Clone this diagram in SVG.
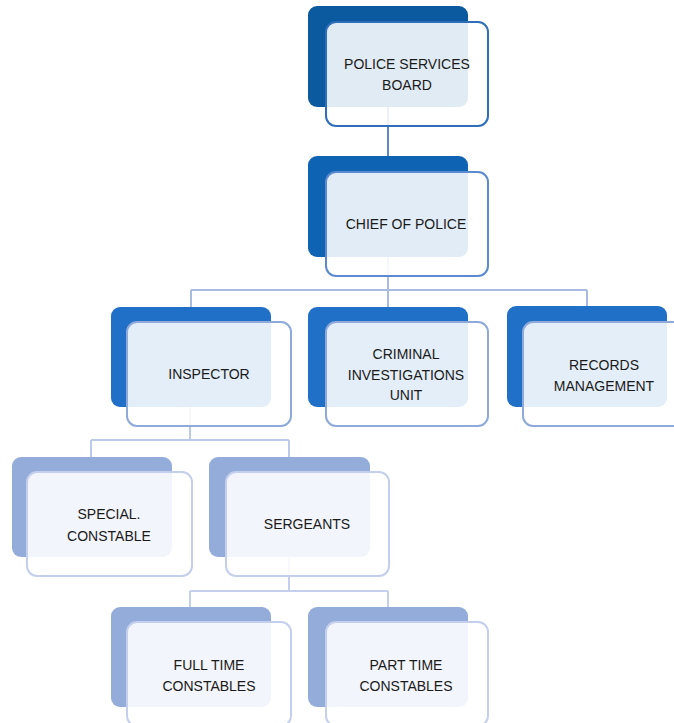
<svg xmlns="http://www.w3.org/2000/svg" width="674" height="723" viewBox="0 0 674 723">
<style>
.back{stroke:none}
.front{fill:#ffffff;fill-opacity:0.88;stroke-width:2}
.t{font-family:"Liberation Sans",Arial,sans-serif;font-size:14px;fill:#1a1a1a;text-anchor:middle}
.c{fill:none;stroke-width:2}
</style>
<rect width="674" height="723" fill="#ffffff"/>
<g id="connectors">
<path class="c" stroke="#5b87cb" d="M388 107 V172"/>
<path class="c" stroke="#a9bbe2" d="M388 257 V290 M191 290 H587 M191 290 V307 M388 290 V307 M587 290 V306"/>
<path class="c" stroke="#bccae9" d="M190 407 V440 M91 440 H289 M91 440 V457 M289 440 V457"/>
<path class="c" stroke="#c3cfec" d="M289 557 V591 M190 591 H388 M190 591 V607 M388 591 V607"/>
</g>
<g id="board">
<rect class="back" x="308" y="6" width="160" height="101" rx="9" fill="#0b5a9f"/>
<rect class="front" x="326" y="22" width="162" height="104" rx="10" stroke="#2f6eb8"/>
<text class="t" x="407" y="69">POLICE SERVICES</text>
<text class="t" x="407" y="90">BOARD</text>
</g>
<g id="chief">
<rect class="back" x="308" y="156" width="160" height="101" rx="9" fill="#0f63b3"/>
<rect class="front" x="326" y="172" width="162" height="104" rx="10" stroke="#5b8ad0"/>
<text class="t" x="406" y="229">CHIEF OF POLICE</text>
</g>
<g id="inspector">
<rect class="back" x="111" y="307" width="160" height="100" rx="9" fill="#1f70c6"/>
<rect class="front" x="127" y="322" width="164" height="104" rx="10" stroke="#8ea9da"/>
<text class="t" x="209" y="379">INSPECTOR</text>
</g>
<g id="ciu">
<rect class="back" x="308" y="307" width="160" height="100" rx="9" fill="#1f70c6"/>
<rect class="front" x="326" y="322" width="162" height="104" rx="10" stroke="#8ea9da"/>
<text class="t" x="406" y="359">CRIMINAL</text>
<text class="t" x="406" y="380">INVESTIGATIONS</text>
<text class="t" x="406" y="400">UNIT</text>
</g>
<g id="records">
<rect class="back" x="507" y="306" width="160" height="101" rx="9" fill="#1f70c6"/>
<rect class="front" x="523" y="322" width="162" height="104" rx="10" stroke="#8ea9da"/>
<text class="t" x="604" y="370">RECORDS</text>
<text class="t" x="604" y="391">MANAGEMENT</text>
</g>
<g id="special">
<rect class="back" x="12" y="457" width="160" height="100" rx="9" fill="#94acd9"/>
<rect class="front" x="27" y="472" width="165" height="104" rx="10" stroke="#c3cfec"/>
<text class="t" x="109" y="519">SPECIAL.</text>
<text class="t" x="109" y="541">CONSTABLE</text>
</g>
<g id="sergeants">
<rect class="back" x="209" y="457" width="161" height="100" rx="9" fill="#94acd9"/>
<rect class="front" x="226" y="472" width="163" height="104" rx="10" stroke="#c3cfec"/>
<text class="t" x="307" y="529">SERGEANTS</text>
</g>
<g id="fulltime">
<rect class="back" x="111" y="607" width="160" height="100" rx="9" fill="#94acd9"/>
<rect class="front" x="127" y="622" width="164" height="104" rx="10" stroke="#c3cfec"/>
<text class="t" x="209" y="670">FULL TIME</text>
<text class="t" x="209" y="691">CONSTABLES</text>
</g>
<g id="parttime">
<rect class="back" x="308" y="607" width="160" height="100" rx="9" fill="#94acd9"/>
<rect class="front" x="326" y="622" width="162" height="104" rx="10" stroke="#c3cfec"/>
<text class="t" x="406" y="670">PART TIME</text>
<text class="t" x="406" y="691">CONSTABLES</text>
</g>
</svg>
